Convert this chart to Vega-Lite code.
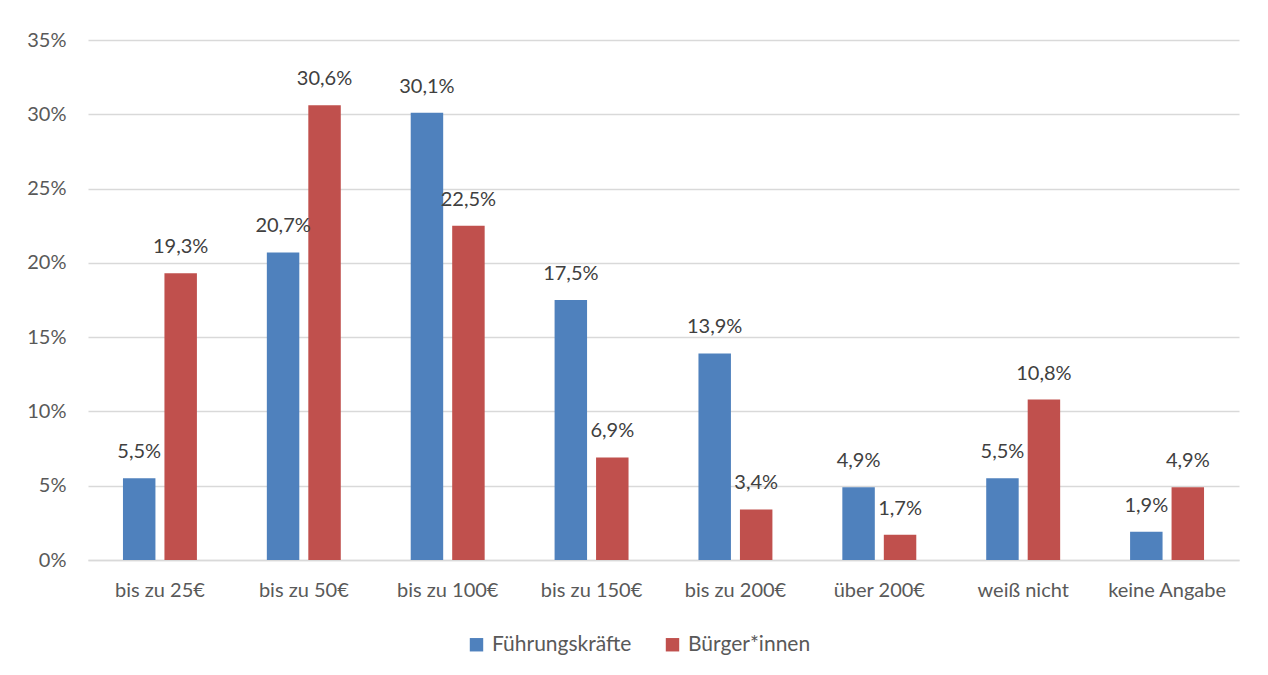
{
  "$schema": "https://vega.github.io/schema/vega-lite/v6.json",
  "width": 1151,
  "height": 520,
  "autosize": {"type": "none"},
  "padding": {"left": 88, "top": 40, "right": 29, "bottom": 115},
  "background": "white",
  "config": {
    "view": {"stroke": null},
    "font": "Lato",
    "locale": {"number": {"decimal": ",", "thousands": ".", "grouping": [3], "currency": ["", "€"]}}
  },
  "data": {
    "values": [
      {"kategorie": "bis zu 25€", "gruppe": "Führungskräfte", "wert": 0.055},
      {"kategorie": "bis zu 25€", "gruppe": "Bürger*innen", "wert": 0.193},
      {"kategorie": "bis zu 50€", "gruppe": "Führungskräfte", "wert": 0.207},
      {"kategorie": "bis zu 50€", "gruppe": "Bürger*innen", "wert": 0.306},
      {"kategorie": "bis zu 100€", "gruppe": "Führungskräfte", "wert": 0.301},
      {"kategorie": "bis zu 100€", "gruppe": "Bürger*innen", "wert": 0.225},
      {"kategorie": "bis zu 150€", "gruppe": "Führungskräfte", "wert": 0.175},
      {"kategorie": "bis zu 150€", "gruppe": "Bürger*innen", "wert": 0.069},
      {"kategorie": "bis zu 200€", "gruppe": "Führungskräfte", "wert": 0.139},
      {"kategorie": "bis zu 200€", "gruppe": "Bürger*innen", "wert": 0.034},
      {"kategorie": "über 200€", "gruppe": "Führungskräfte", "wert": 0.049},
      {"kategorie": "über 200€", "gruppe": "Bürger*innen", "wert": 0.017},
      {"kategorie": "weiß nicht", "gruppe": "Führungskräfte", "wert": 0.055},
      {"kategorie": "weiß nicht", "gruppe": "Bürger*innen", "wert": 0.108},
      {"kategorie": "keine Angabe", "gruppe": "Führungskräfte", "wert": 0.019},
      {"kategorie": "keine Angabe", "gruppe": "Bürger*innen", "wert": 0.049}
    ]
  },
  "encoding": {
    "x": {
      "field": "kategorie",
      "type": "nominal",
      "sort": null,
      "scale": {"paddingInner": 0.486, "paddingOuter": 0.243},
      "axis": {
        "title": null,
        "labelAngle": 0,
        "labelFontSize": 20,
        "labelColor": "#595959",
        "labelPadding": 20,
        "ticks": false,
        "domainColor": "#D9D9D9",
        "domainWidth": 1.5,
        "grid": false
      }
    },
    "xOffset": {
      "field": "gruppe",
      "type": "nominal",
      "sort": ["Führungskräfte", "Bürger*innen"],
      "scale": {"paddingInner": 0.217, "paddingOuter": 0}
    },
    "y": {
      "field": "wert",
      "type": "quantitative",
      "scale": {"domain": [0, 0.35]},
      "axis": {
        "title": null,
        "format": ".0%",
        "values": [0, 0.05, 0.1, 0.15, 0.2, 0.25, 0.3, 0.35],
        "labelFontSize": 20,
        "labelColor": "#595959",
        "labelPadding": 22,
        "ticks": false,
        "domain": false,
        "gridColor": "#D9D9D9",
        "gridWidth": 1.5
      }
    }
  },
  "layer": [
    {
      "mark": {"type": "bar"},
      "encoding": {
        "color": {
          "field": "gruppe",
          "type": "nominal",
          "sort": ["Führungskräfte", "Bürger*innen"],
          "scale": {"domain": ["Führungskräfte", "Bürger*innen"], "range": ["#4F81BD", "#C0504D"]},
          "legend": {
            "title": null,
            "orient": "none",
            "direction": "horizontal",
            "legendX": 378,
            "legendY": 594,
            "symbolType": "square",
            "symbolSize": 180,
            "symbolStrokeWidth": 0,
            "labelFontSize": 21,
            "labelColor": "#595959",
            "labelOffset": 5,
            "labelLimit": 300,
            "columnPadding": 30
          }
        }
      }
    },
    {
      "mark": {"type": "text", "baseline": "middle", "align": "center", "dy": -26, "fontSize": 20, "color": "#404040"},
      "encoding": {
        "text": {"field": "wert", "type": "quantitative", "format": ".1%"}
      }
    }
  ]
}
